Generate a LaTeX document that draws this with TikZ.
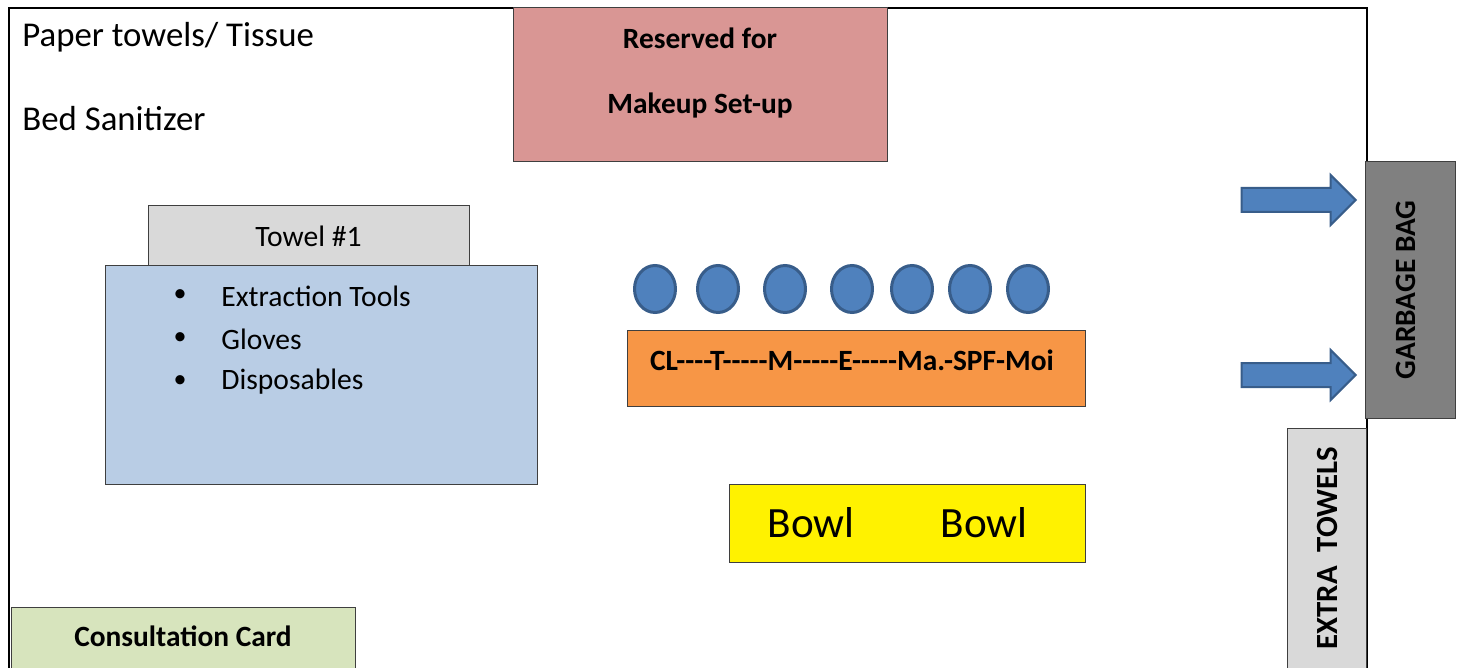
\documentclass[tikz,border=0pt]{standalone}
\usepackage{fontspec}
\setmainfont{Carlito}
\usepackage{tikz}
\usetikzlibrary{shapes.geometric,shapes.arrows}

\definecolor{makeuppink}{HTML}{D99694}
\definecolor{towelgray}{HTML}{D9D9D9}
\definecolor{toolblue}{HTML}{B9CDE5}
\definecolor{accblue}{HTML}{4F81BD}
\definecolor{accblueline}{HTML}{385D8A}
\definecolor{prodorange}{HTML}{F79646}
\definecolor{bagsgray}{HTML}{808080}
\definecolor{cardgreen}{HTML}{D7E4BD}
\definecolor{boxline}{HTML}{3F3F3F}

\tikzset{
  stationbox/.style={draw=boxline, line width=0.5pt, inner sep=0pt},
  bottle/.style={ellipse, draw=accblueline, fill=accblue, line width=1.5pt,
    minimum width=20.5pt, minimum height=23.5pt, inner sep=0pt},
  binarrow/.style={single arrow, draw=accblueline, fill=accblue, line width=1pt,
    inner sep=0pt, text height=5.5pt, text depth=5.5pt, minimum height=57pt,
    single arrow head extend=6.5pt},
  bulletitem/.style={anchor=west, inner sep=0pt, font=\fontsize{14.8}{16}\selectfont},
  boldlabel/.style={font=\bfseries\fontsize{14.7}{16}\selectfont},
  walllabel/.style={anchor=base west, inner sep=0pt, font=\fontsize{17.4}{19}\selectfont}
}

\begin{document}
\begin{tikzpicture}[x=0.5pt,y=-0.5pt]
  \useasboundingbox (0,0) rectangle (1462,668);
  % room outline
  \draw [black, line width=1.2pt] (9,670) -- (9,8) -- (1367,8) -- (1367,670);
  \node [walllabel] (paper) at (22,47) {Paper towels/ Tissue};
  \node [walllabel] (sanitizer) at (22,131) {Bed Sanitizer};
  % makeup corner
  \node [stationbox, fill=makeuppink, minimum width=187pt, minimum height=77pt] (makeup) at (700,85) {};
  \node [boldlabel] (makeupA) at (700,38) {Reserved for};
  \node [boldlabel] (makeupB) at (700,105) {Makeup Set-up};
  % tool tray
  \node [stationbox, fill=towelgray, minimum width=160.5pt, minimum height=30pt,
         font=\fontsize{14.8}{16}\selectfont] (towel) at (308.5,236) {Towel \#1};
  \node [stationbox, fill=toolblue, minimum width=216pt, minimum height=109pt] (tray) at (321,375) {};
  \foreach \y/\item in {296/Extraction Tools, 339/Gloves, 382/Disposables}{
    \node [font=\fontsize{13}{14}\selectfont] (dot\y) at (180,\y) {\textbullet};
    \node [bulletitem] (item\y) at (221,\y) {\item};
  }
  % product bottles
  \foreach \x [count=\i] in {655,718,785,852,912,970,1028}
    \node [bottle] (bottle\i) at (\x,289) {};
  \node [stationbox, fill=prodorange, minimum width=229pt, minimum height=37.5pt] (products) at (856,368.5) {};
  \node [boldlabel] (order) at (852,360) {CL-{}-{}-{}-T-{}-{}-{}-{}-M-{}-{}-{}-{}-E-{}-{}-{}-{}-Ma.-SPF-Moi};
  \node [stationbox, fill=yellow, minimum width=178pt, minimum height=39pt] (bowls) at (907,523) {};
  \node [font=\fontsize{21.6}{23}\selectfont] (bowlA) at (811,523) {Bowl};
  \node [font=\fontsize{21.6}{23}\selectfont] (bowlB) at (984,523) {Bowl};
  % waste and linen
  \node [stationbox, fill=bagsgray, minimum width=45pt, minimum height=128pt] (garbage) at (1410,290) {};
  \node [boldlabel, rotate=90] (garbagetxt) at (1406,290) {GARBAGE BAG};
  \node [binarrow, anchor=east] (toss1) at (1357,200) {};
  \node [binarrow, anchor=east] (toss2) at (1357,375) {};
  \node [stationbox, fill=towelgray, minimum width=39.5pt, minimum height=121pt] (extra) at (1326.5,549) {};
  \node [font=\bfseries\fontsize{15.4}{17}\selectfont, rotate=90] (extratxt) at (1327,548) {EXTRA\ \ TOWELS};
  % consultation
  \node [stationbox, fill=cardgreen, minimum width=172pt, minimum height=31.5pt] (card) at (183,638.5) {};
  \node [boldlabel] (cardtxt) at (183,636) {Consultation Card};
\end{tikzpicture}
\end{document}
